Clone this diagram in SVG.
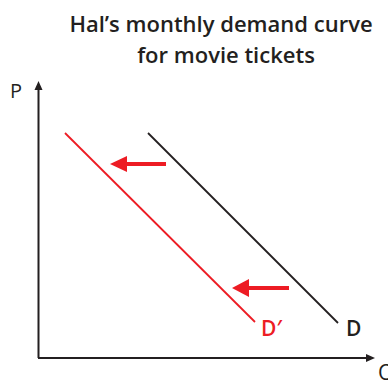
<svg xmlns="http://www.w3.org/2000/svg" width="388" height="380" viewBox="0 0 388 380">
<style>
.t{font-family:"Open Sans","Liberation Sans",sans-serif;font-weight:600;font-size:22px;fill:#231F20}
.l{font-family:"Open Sans","Liberation Sans",sans-serif;fill:#231F20}
.ax{stroke:#231F20;stroke-width:2;fill:none}
.shift{stroke:#ED1C24;stroke-width:4;fill:none}
</style>
<g id="title">
<text class="t" x="221" y="32" text-anchor="middle">Hal’s monthly demand curve</text>
<text class="t" x="226" y="63" text-anchor="middle">for movie tickets</text>
</g>
<g id="axes">
<path class="ax" d="M38.5,358 V88"/>
<path d="M38.5,81 L34.5,90 L42.5,90 Z" fill="#231F20"/>
<path class="ax" d="M38,358 H367"/>
<path d="M375,358 L366,354 L366,362 Z" fill="#231F20"/>
<text class="l" x="10" y="98" font-size="20">P</text>
<text class="l" x="378" y="380" font-size="21">Q</text>
</g>
<g id="D">
<line x1="148" y1="133" x2="338" y2="323" stroke="#231F20" stroke-width="1.8"/>
<text class="l" x="346" y="336" font-size="21" font-weight="600">D</text>
</g>
<g id="Dprime">
<line x1="65" y1="133" x2="255" y2="322" stroke="#ED1C24" stroke-width="1.8"/>
<text class="l" x="261" y="336" font-size="21" font-weight="600" style="fill:#ED1C24">D′</text>
</g>
<g id="connectors">
<path class="shift" d="M166,164 H124"/>
<path d="M110,164 L127,156 L127,172 Z" fill="#ED1C24"/>
<path class="shift" d="M289,288 H246"/>
<path d="M232,288 L249,279 L249,297 Z" fill="#ED1C24"/>
</g>
</svg>
